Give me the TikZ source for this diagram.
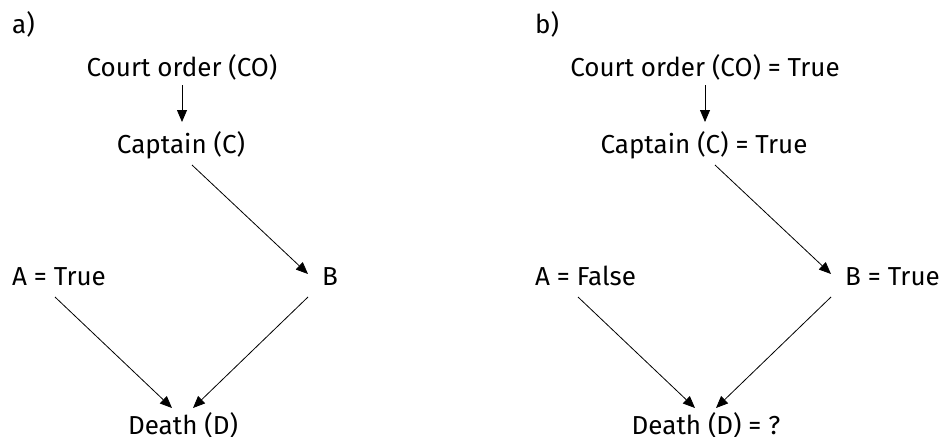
\documentclass[tikz,border=0pt]{standalone}
\usepackage{fontspec}
\setmainfont{Fira Sans}
\usetikzlibrary{arrows.meta}
\begin{document}
\begin{tikzpicture}[x=1pt,y=-1pt,
  lbl/.style={inner sep=0pt,font=\fontsize{26}{30}\selectfont},
  ctr/.style={lbl,anchor=base},
  lft/.style={lbl,anchor=base west},
  edge/.style={line width=0.8pt,-{Triangle[length=12pt,width=10pt]}}]
\useasboundingbox[fill=white] (0,0) rectangle (941,436);

% panel a
\node[lft] (pa) at (12,34) {a)};
\node[ctr] (aCO) at (182,76) {Court order (CO)};
\node[ctr] (aC) at (181,153) {Captain (C)};
\node[lft] (aA) at (12,285) {A = True};
\node[lft] (aB) at (322,285) {B};
\node[ctr] (aD) at (183,434) {Death (D)};

\draw[edge] ([shift={(0,9)}]aCO.base) -- ([shift={(1,-31)}]aC.base);
\draw[edge] ([shift={(11,12)}]aC.base) -- ([shift={(-14,-11)}]aB.base west);
\draw[edge] ([shift={(43,12)}]aA.base west) -- ([shift={(-11,-26)}]aD.base);
\draw[edge] ([shift={(-14,12)}]aB.base west) -- ([shift={(10,-26)}]aD.base);

% panel b
\node[lft] (pb) at (535,34) {b)};
\node[ctr] (bCO) at (705,76) {Court order (CO) = True};
\node[ctr] (bC) at (704,153) {Captain (C) = True};
\node[lft] (bA) at (535,285) {A = False};
\node[lft] (bB) at (845,285) {B = True};
\node[ctr] (bD) at (706,434) {Death (D) = ?};

\draw[edge] ([shift={(0,9)}]bCO.base) -- ([shift={(1,-31)}]bC.base);
\draw[edge] ([shift={(11,12)}]bC.base) -- ([shift={(-14,-11)}]bB.base west);
\draw[edge] ([shift={(43,12)}]bA.base west) -- ([shift={(-11,-26)}]bD.base);
\draw[edge] ([shift={(-14,12)}]bB.base west) -- ([shift={(10,-26)}]bD.base);
\end{tikzpicture}
\end{document}
